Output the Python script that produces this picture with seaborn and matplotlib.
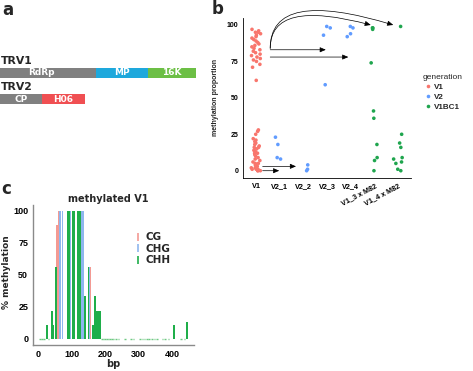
import numpy as np
import pandas as pd
import matplotlib
matplotlib.use('Agg')
import matplotlib.pyplot as plt
import seaborn as sns
from matplotlib.lines import Line2D

# ---------------- data ----------------
# panel a: genome maps
trv1_segments = ['RdRp', 'MP', '16K']
trv1_lengths = [96, 52, 48]
trv1_colors = ['#808080', '#1ea8dc', '#6cbf45']
trv2_segments = ['CP', 'H06']
trv2_lengths = [42, 43]
trv2_colors = ['#808080', '#f04f52']

# panel b: methylation proportion per sample
categories = ['V1', 'V2_1', 'V2_2', 'V2_3', 'V2_4', 'V1_3 x M82', 'V1_4 x M82']
generations = ['V1', 'V2', 'V2', 'V2', 'V2', 'V1BC1', 'V1BC1']
generation_levels = ['V1', 'V2', 'V1BC1']
generation_colors = ['#f8766d', '#619cff', '#1fa54e']
v1_vals = [97, 96, 95, 95, 94, 93, 92, 91, 90, 89, 88, 87, 86, 85, 84, 83, 82,
           81, 80, 79, 78, 77, 76, 75, 73, 71, 62,
           28, 27, 25, 22, 21, 20, 19, 18, 17, 16, 16, 15, 14, 13, 12, 12, 11,
           10, 9, 8, 7, 6, 5, 5, 4, 3, 3, 2, 2, 1, 1, 1, 0, 0, 0]
v2_1_vals = [23, 18, 8, 9]
v2_2_vals = [4, 1, 0]
v2_3_vals = [99, 98, 93, 59]
v2_4_vals = [99, 98, 94, 92]
v1_3_m82_vals = [98, 97, 98, 74, 41, 36, 18, 9, 7, 0]
v1_4_m82_vals = [99, 25, 19, 16, 9, 8, 6, 5, 1, 0]
sample_values = [v1_vals, v2_1_vals, v2_2_vals, v2_3_vals, v2_4_vals,
                 v1_3_m82_vals, v1_4_m82_vals]

# panel c: % methylation along the read (bp)
cg_bp = [55, 61, 108, 156]
cg_val = [89, 100, 100, 56]
chg_bp = [65, 72, 94, 129, 134, 153]
chg_val = [100, 100, 100, 100, 100, 56]
chh_bp = [25, 40, 45, 52, 88, 92, 102, 106, 118, 122, 126, 140, 150, 163,
          169, 175, 180, 185, 407, 446]
chh_val = [11, 22, 11, 56, 100, 100, 100, 100, 100, 100, 100, 33, 56, 11,
           33, 22, 22, 22, 11, 13]
chh_zero_bp = [5, 10, 17, 30, 190, 195, 200, 205, 210, 215, 220, 225, 232, 240,
               260, 278, 285, 305, 312, 318, 325, 332, 340, 348, 355, 372, 380,
               390, 428, 438]
context_labels = ['CG', 'CHG', 'CHH']
context_colors = ['#f39a93', '#8fb6ee', '#1fae4a']

# ---------------- figure ----------------
sns.set_style('white')
plt.rcParams['font.family'] = ['Liberation Sans', 'DejaVu Sans']
W, H = 473, 371
fig = plt.figure(figsize=(W / 100, H / 100), dpi=100)
fig.patch.set_facecolor('white')

# ---- panel a ----
ax_a = fig.add_axes([0, 1 - 185 / H, 236 / W, 185 / H])
ax_a.set_xlim(0, 236)
ax_a.set_ylim(185, 0)
ax_a.axis('off')
for ypos, segs, lens, cols, name, ty in [
        (72.7, trv1_segments, trv1_lengths, trv1_colors, 'TRV1', 61),
        (99, trv2_segments, trv2_lengths, trv2_colors, 'TRV2', 87.5)]:
    lefts = np.concatenate([[0], np.cumsum(lens)[:-1]])
    ax_a.barh([ypos] * len(lens), lens, left=lefts, height=10, color=cols,
              edgecolor='none')
    for seg, l, w in zip(segs, lefts, lens):
        ax_a.text(l + w / 2 - (7 if seg == 'RdRp' else 0), ypos, seg,
                  color='white', ha='center', va='center', fontsize=6.5,
                  fontweight='bold', family='DejaVu Sans')
    ax_a.text(1, ty, name, ha='left', va='center', fontsize=7.8,
              fontweight='bold', family='DejaVu Sans')

# ---- panel b ----
rows = []
for cat, gen, vals in zip(categories, generations, sample_values):
    for v in vals:
        rows.append({'sample': cat, 'generation': gen, 'value': v})
df_b = pd.DataFrame(rows)

ax_b = fig.add_axes([243 / W, 1 - 178 / H, (411 - 243) / W, (178 - 17.7) / H])
np.random.seed(7)
sns.stripplot(data=df_b, x='sample', y='value', hue='generation',
              order=categories, hue_order=generation_levels,
              palette=generation_colors, jitter=0.2, size=2.6, linewidth=0,
              ax=ax_b)
ax_b.set_xlim(-0.55, 6.55)
ax_b.set_ylim(-5, 105)
ax_b.set_yticks([0, 25, 50, 75, 100])
ax_b.set_yticklabels(['0', '25', '50', '75', '100'], fontsize=5,
                     fontweight='bold')
ax_b.set_xticks(range(len(categories)))
ax_b.set_xticklabels(categories, fontsize=5.2, fontweight='bold')
for lbl in ax_b.get_xticklabels()[5:]:
    lbl.set_rotation(28)
    lbl.set_ha('right')
    lbl.set_rotation_mode('anchor')
ax_b.tick_params(length=2, width=0.5, pad=1.5, colors='black')
for s in ['top', 'right']:
    ax_b.spines[s].set_visible(False)
for s in ['left', 'bottom']:
    ax_b.spines[s].set_color('black')
    ax_b.spines[s].set_linewidth(0.6)
ax_b.set_xlabel('')
ax_b.set_ylabel('methylation proportion', fontsize=5, fontweight='bold')
ax_b.yaxis.set_label_coords((219 - 243) / 168, 0.5)

handles, labels = ax_b.get_legend_handles_labels()
ax_b.get_legend().remove()
leg_b = fig.legend(handles, labels, title='generation', loc='upper left',
                   bbox_to_anchor=(419 / W, 1 - 70 / H), frameon=False,
                   fontsize=5.8, title_fontsize=6, handletextpad=0.1,
                   labelspacing=0.3, borderpad=0, handlelength=1.2,
                   markerscale=1.0)
leg_b._legend_box.align = 'left'
for t in leg_b.get_texts():
    t.set_fontweight('bold')

arrow_kw = dict(arrowstyle='-|>,head_length=0.35,head_width=0.15', color='black',
                lw=0.5, shrinkA=0, shrinkB=0)
ax_b.annotate('', xy=(4.85, 100), xytext=(0.6, 84),
              arrowprops=dict(connectionstyle='angle3,angleA=90,angleB=-15',
                              **arrow_kw), annotation_clip=False)
ax_b.annotate('', xy=(5.8, 100), xytext=(0.6, 84),
              arrowprops=dict(connectionstyle='angle3,angleA=90,angleB=-17',
                              **arrow_kw), annotation_clip=False)
ax_b.annotate('', xy=(2.95, 83), xytext=(0.6, 83), arrowprops=arrow_kw)
ax_b.annotate('', xy=(3.9, 78), xytext=(0.6, 78), arrowprops=arrow_kw)
ax_b.annotate('', xy=(0.98, 0), xytext=(0.28, 0), arrowprops=arrow_kw)
ax_b.annotate('', xy=(1.69, 3), xytext=(0.28, 3), arrowprops=arrow_kw)

# ---- panel c ----
ax_c = fig.add_axes([33 / W, 1 - 345 / H, (194 - 33) / W, (345 - 204.6) / H])
ax_c.bar(cg_bp, cg_val, width=5, color=context_colors[0], edgecolor='none', zorder=2)
ax_c.bar(chg_bp, chg_val, width=5, color=context_colors[1], edgecolor='none', zorder=2)
ax_c.bar(chh_bp, chh_val, width=5, color=context_colors[2], edgecolor='none', zorder=3)
ax_c.bar(chh_zero_bp, [0] * len(chh_zero_bp), width=5, color='none',
         edgecolor='#6fc983', linewidth=1.0, zorder=3)
ax_c.set_xlim(-16.5, 466)
ax_c.set_ylim(-5, 105)
ax_c.set_xticks([0, 100, 200, 300, 400])
ax_c.set_xticklabels(['0', '100', '200', '300', '400'], fontsize=6.5,
                     fontweight='bold')
ax_c.set_yticks([0, 25, 50, 75, 100])
ax_c.set_yticklabels(['0', '25', '50', '75', '100'], fontsize=6.5,
                     fontweight='bold')
ax_c.tick_params(length=2, width=0.6, pad=1.5, colors='#333333', labelcolor='black')
for s in ['top', 'right']:
    ax_c.spines[s].set_visible(False)
for s in ['left', 'bottom']:
    ax_c.spines[s].set_color('#8a8a8a')
    ax_c.spines[s].set_linewidth(1.0)
ax_c.set_xlabel('bp', fontsize=7, fontweight='bold', family='DejaVu Sans')
ax_c.set_ylabel('% methylation', fontsize=6.5, fontweight='bold', family='DejaVu Sans')
ax_c.xaxis.set_label_coords(0.5, (345 - 359) / 140.4)
ax_c.yaxis.set_label_coords((11 - 33) / 161, 0.52)

c_handles = [Line2D([], [], marker='|', linestyle='None', color=c, markersize=6,
                    markeredgewidth=1.2) for c in context_colors]
leg_c = fig.legend(c_handles, context_labels, loc='upper left',
                   bbox_to_anchor=(128 / W, 1 - 227 / H), frameon=False,
                   prop={'family': 'DejaVu Sans', 'weight': 'bold', 'size': 7.5},
                   handletextpad=0.2, labelspacing=0.15, borderpad=0,
                   handlelength=1.0)

fig.text(108 / W, 1 - 199 / H, 'methylated V1', ha='center', va='center',
         fontsize=7, fontweight='bold', family='DejaVu Sans')

# panel letters
fig.text(2 / W, 1 - 10 / H, 'a', fontsize=12, fontweight='bold', va='center',
         family='DejaVu Sans')
fig.text(212 / W, 1 - 9 / H, 'b', fontsize=12, fontweight='bold', va='center',
         family='DejaVu Sans')
fig.text(1 / W, 1 - 189 / H, 'c', fontsize=12, fontweight='bold', va='center',
         family='DejaVu Sans')

fig.savefig('out.png', dpi=100, facecolor='white')
